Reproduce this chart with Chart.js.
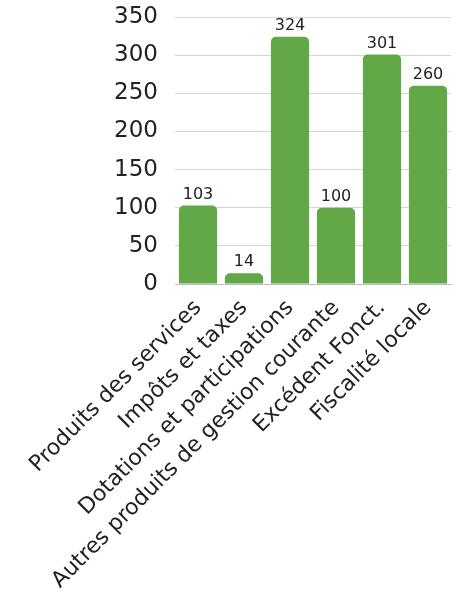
<!DOCTYPE html>
<html>
<head>
<meta charset="utf-8">
<script src="https://cdn.jsdelivr.net/npm/chart.js@4"></script>
<style>
  html, body { margin: 0; padding: 0; background: #fff; }
  #wrap { width: 465px; height: 594px; }
</style>
</head>
<body>
<div id="wrap"><canvas id="chart"></canvas></div>
<script>
const categories = ['Produits des services', 'Impôts et taxes', 'Dotations et participations',
    'Autres produits de gestion courante', 'Excédent Fonct.', 'Fiscalité locale'];
const values = [103, 14, 324, 100, 301, 260];
const yTicks = [0, 50, 100, 150, 200, 250, 300, 350];

const fontFamily = '"DejaVu Sans", sans-serif';

// draws the value above each bar
const valueLabels = {
    id: 'valueLabels',
    afterDatasetsDraw(chart) {
        const ctx = chart.ctx;
        const meta = chart.getDatasetMeta(0);
        ctx.save();
        ctx.font = '16px ' + fontFamily;
        ctx.fillStyle = '#222';
        ctx.textAlign = 'center';
        ctx.textBaseline = 'bottom';
        meta.data.forEach((bar, i) => {
            ctx.fillText(values[i], bar.x, bar.y - 3);
        });
        ctx.restore();
    }
};

const myChart = new Chart(document.getElementById('chart'), {
    type: 'bar',
    data: {
        labels: categories,
        datasets: [{
            data: values,
            backgroundColor: '#62a846',
            borderRadius: 5,
            borderSkipped: 'bottom',
            barPercentage: 0.83,
            categoryPercentage: 1
        }]
    },
    options: {
        responsive: true,
        maintainAspectRatio: false,
        animation: false,
        layout: {
            padding: { top: 17, right: 14, left: 0, bottom: 0 }
        },
        scales: {
            x: {
                grid: { display: false },
                border: { color: '#bbb' },
                afterFit(axis) { axis.height = 310; },
                ticks: {
                    color: '#222',
                    minRotation: 45,
                    maxRotation: 45,
                    font: { family: fontFamily, size: 22 }
                }
            },
            y: {
                min: 0,
                max: 350,
                afterBuildTicks(axis) {
                    axis.ticks = yTicks.map(v => ({ value: v }));
                },
                afterFit(axis) {
                    axis.width = 175;
                    axis.paddingTop = 0;
                    axis.paddingBottom = 0;
                },
                grid: { color: '#d6d6d6', drawTicks: false },
                border: { display: false },
                ticks: {
                    color: '#222',
                    padding: 17,
                    font: { family: fontFamily, size: 23 }
                }
            }
        },
        plugins: {
            legend: { display: false },
            tooltip: { enabled: false }
        }
    },
    plugins: [valueLabels]
});
</script>
</body>
</html>
